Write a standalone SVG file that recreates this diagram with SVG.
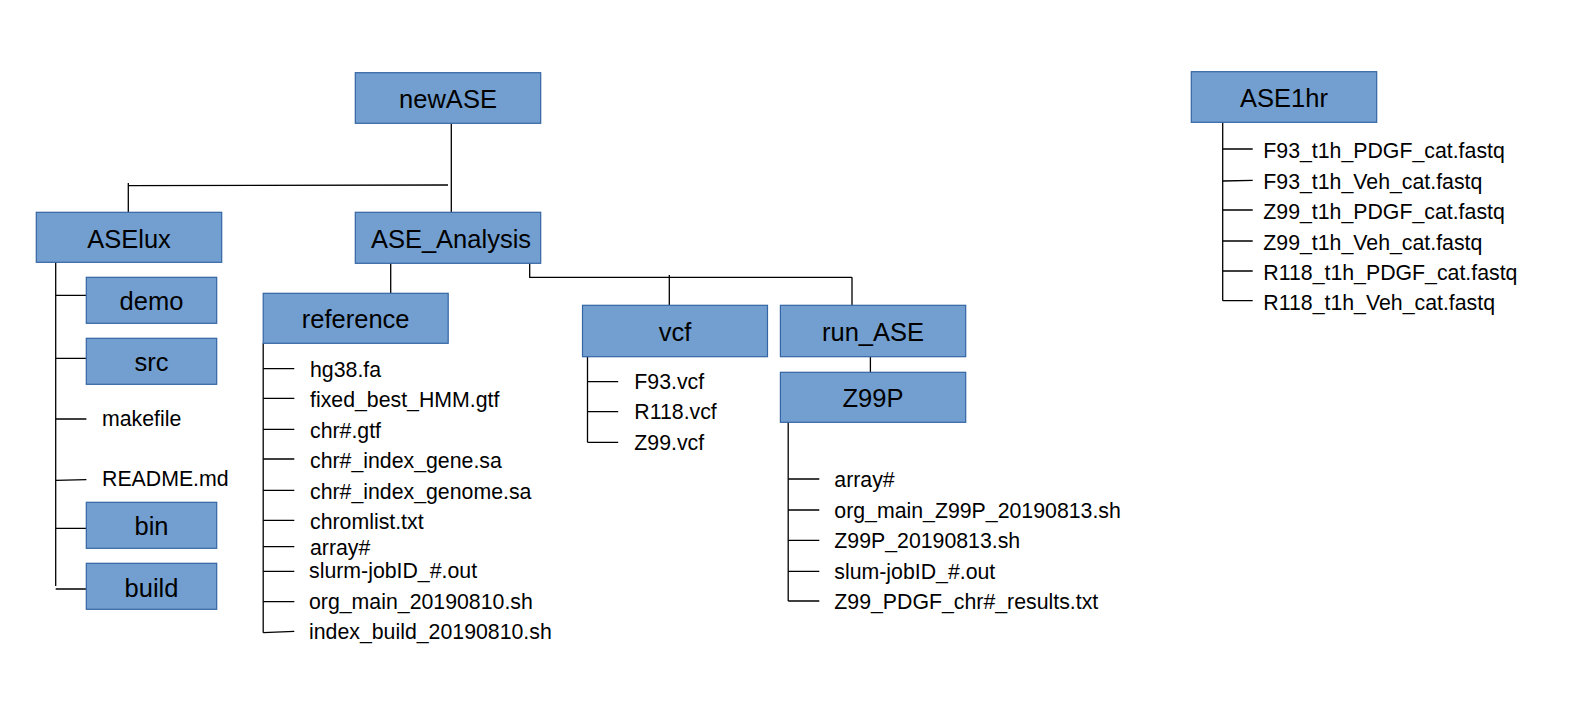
<svg xmlns="http://www.w3.org/2000/svg" width="1577" height="720" viewBox="0 0 1577 720">
<style>
.box{fill:#729fcf;stroke:#3465a4;stroke-width:1.2}
.lbl{font-family:"Liberation Sans",Arial,sans-serif;font-size:25.5px;fill:#000;text-anchor:middle}
.file{font-family:"Liberation Sans",Arial,sans-serif;font-size:21.3px;fill:#000}
.ln{stroke:#000;stroke-width:1.3;fill:none}
</style>
<rect width="1577" height="720" fill="#fff"/>
<g id="connectors" class="ln">
<path d="M451.3,123.3V212.3"/>
<path d="M448,185L128.3,185.6"/>
<path d="M128.3,183V212.3"/>
<path d="M55.7,262.3V586"/>
<path d="M55.7,295.3H86.3M55.7,358.3H86.3M55.7,419H86.4M55.7,480.3L86.4,479.7M55.7,528.3H86.3M55.7,589H86.3"/>
<path d="M390.7,263.3V293.3"/>
<path d="M529.7,263.3V277.3H852M669.3,275V305.3M852,277.3V307"/>
<path d="M870.4,356.7V372.3"/>
<path d="M263.2,343.3V632.7"/>
<path d="M263.2,368.7H294.3M263.2,398.3H294.3M263.2,429.3H294.3M263.2,459H294.3M263.2,490.3H294.3M263.2,520.3H294.3M263.2,546.7H294.3M263.2,571.3H294.3M263.2,601.7H294.3M263.2,632.7L294.3,631.3"/>
<path d="M587.5,356.7V442.3"/>
<path d="M587.5,381.7H618.2M587.5,411.7H618.2M587.5,442.3H618.2"/>
<path d="M788.2,422.3V601"/>
<path d="M788.2,479H819.3M788.2,510H819.3M788.2,540.3H819.3M788.2,571.3H819.3M788.2,601H819.3"/>
<path d="M1222.7,122.3V300.7"/>
<path d="M1222.7,149H1252.7M1222.7,181L1252.7,180.3M1222.7,210H1252.7M1222.7,241H1252.7M1222.7,271H1252.7M1222.7,300.7H1252.7"/>
</g>
<g id="newASE"><rect class="box" x="355.3" y="72.7" width="185.4" height="50.6"/><text class="lbl" x="448" y="108.3">newASE</text></g>
<g id="ASElux"><rect class="box" x="36.3" y="212.3" width="185.4" height="50"/><text class="lbl" x="129" y="247.5">ASElux</text></g>
<g id="ASE_Analysis"><rect class="box" x="355.3" y="212.3" width="185.4" height="51"/><text class="lbl" x="451" y="248">ASE_Analysis</text></g>
<g id="demo"><rect class="box" x="86.3" y="277.3" width="130.4" height="46"/><text class="lbl" x="151.5" y="310">demo</text></g>
<g id="src"><rect class="box" x="86.3" y="338.3" width="130.4" height="46"/><text class="lbl" x="151.5" y="371">src</text></g>
<g id="makefile"><text class="file" x="102" y="426">makefile</text></g>
<g id="README"><text class="file" x="102" y="486">README.md</text></g>
<g id="bin"><rect class="box" x="86.3" y="502.3" width="130.4" height="46"/><text class="lbl" x="151.5" y="535">bin</text></g>
<g id="build"><rect class="box" x="86.3" y="563.3" width="130.4" height="46"/><text class="lbl" x="151.5" y="596.5">build</text></g>
<g id="reference"><rect class="box" x="263.2" y="293.3" width="185" height="50"/><text class="lbl" x="355.7" y="328.3">reference</text></g>
<g id="reference_files" class="file">
<text x="310" y="377">hg38.fa</text>
<text x="310" y="407">fixed_best_HMM.gtf</text>
<text x="310" y="438">chr#.gtf</text>
<text x="310" y="468">chr#_index_gene.sa</text>
<text x="310" y="499">chr#_index_genome.sa</text>
<text x="310" y="529">chromlist.txt</text>
<text x="310" y="554.5">array#</text>
<text x="309" y="578">slurm-jobID_#.out</text>
<text x="309" y="609">org_main_20190810.sh</text>
<text x="309" y="639">index_build_20190810.sh</text>
</g>
<g id="vcf"><rect class="box" x="582.5" y="305.3" width="185" height="51.4"/><text class="lbl" x="675" y="341">vcf</text></g>
<g id="vcf_files" class="file">
<text x="634.3" y="389.3">F93.vcf</text>
<text x="634.3" y="419.3">R118.vcf</text>
<text x="634.3" y="450">Z99.vcf</text>
</g>
<g id="run_ASE"><rect class="box" x="780.4" y="305.3" width="185.3" height="51.4"/><text class="lbl" x="873" y="341">run_ASE</text></g>
<g id="Z99P"><rect class="box" x="780.4" y="372.3" width="185.3" height="50"/><text class="lbl" x="873" y="407.3">Z99P</text></g>
<g id="Z99P_files" class="file">
<text x="834.3" y="487">array#</text>
<text x="834.3" y="518">org_main_Z99P_20190813.sh</text>
<text x="834.3" y="548.3">Z99P_20190813.sh</text>
<text x="834.3" y="579.3">slum-jobID_#.out</text>
<text x="834.3" y="609.3">Z99_PDGF_chr#_results.txt</text>
</g>
<g id="ASE1hr"><rect class="box" x="1191.3" y="71.7" width="185.4" height="50.6"/><text class="lbl" x="1284" y="106.7">ASE1hr</text></g>
<g id="ASE1hr_files" class="file">
<text x="1263.3" y="157.5">F93_t1h_PDGF_cat.fastq</text>
<text x="1263.3" y="189">F93_t1h_Veh_cat.fastq</text>
<text x="1263.3" y="219">Z99_t1h_PDGF_cat.fastq</text>
<text x="1263.3" y="249.5">Z99_t1h_Veh_cat.fastq</text>
<text x="1263.3" y="279.5">R118_t1h_PDGF_cat.fastq</text>
<text x="1263.3" y="310">R118_t1h_Veh_cat.fastq</text>
</g>
</svg>
